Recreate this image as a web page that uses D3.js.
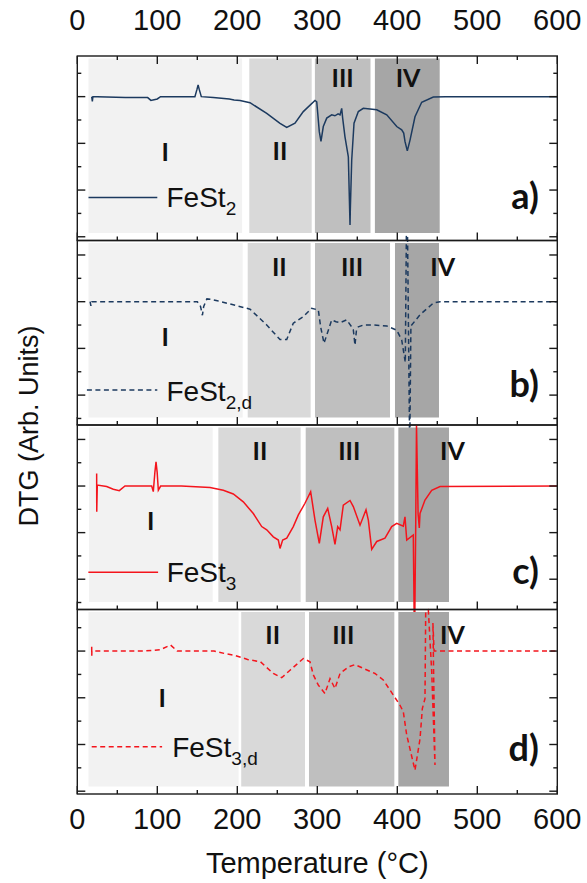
<!DOCTYPE html>
<html>
<head>
<meta charset="utf-8">
<script src="https://cdn.jsdelivr.net/npm/d3@7"></script>
<style>
  body { margin: 0; background: #fff; }
  text { font-family: "Liberation Sans", Arial, sans-serif; fill: #111; }
  .roman, .tag { font-family: Lato, "Open Sans", sans-serif; font-weight: bold; }
</style>
</head>
<body>
<script>
// ---- data ----
var tempTicks = [0, 100, 200, 300, 400, 500, 600];

var fest2T = [18, 18.8, 19.5, 25, 60, 88, 92, 100, 104, 130, 147, 149.5, 151, 152.5, 155, 170, 190, 196, 203.4, 215.9, 236.8, 253.4, 261.8, 272.1, 282.5, 297.1, 299.3, 302.5, 304.6, 307.5, 311.8, 318, 322, 326, 328.4, 330.5, 331.7, 334.6, 338.8, 340.9, 341.3, 343, 345.9, 351.3, 357.5, 374.3, 386.8, 399.3, 405.5, 408, 409.6, 412.5, 415.9, 422.1, 430.5, 445, 460, 600];
var fest2V = [0, -0.1, 0, 0, -0.02, -0.02, -0.08, -0.05, 0, 0, 0, 0.15, 0.25, 0.15, 0, -0.02, -0.05, -0.07, -0.085, -0.13, -0.36, -0.57, -0.66, -0.57, -0.32, -0.08, -0.11, -0.75, -0.96, -0.64, -0.46, -0.39, -0.41, -0.37, -0.39, -0.25, -0.46, -0.86, -1.29, -2.75, -2.4, -1.36, -0.57, -0.32, -0.25, -0.28, -0.39, -0.64, -0.71, -0.78, -0.96, -1.16, -0.93, -0.43, -0.12, -0.01, 0, 0];

var fest2dT = [16, 17, 18, 40, 100, 150, 154, 156.4, 158, 162, 167, 175, 190.9, 215.9, 236.8, 253.4, 261.8, 270, 282.5, 293, 301.3, 304.2, 308.4, 313.8, 318, 323.4, 328.4, 336.7, 343, 345, 347.1, 349, 351.3, 357.5, 370, 386.8, 399.3, 405.5, 407.5, 410, 412, 415.5, 417, 428.4, 445, 453.4, 600];
var fest2dV = [0, -0.09, 0, 0, 0, 0, -0.1, -0.29, -0.1, 0.06, 0.05, 0.02, -0.05, -0.16, -0.5, -0.81, -0.81, -0.46, -0.32, -0.14, -0.18, -0.54, -0.89, -0.61, -0.39, -0.43, -0.45, -0.39, -0.54, -0.6, -0.93, -0.6, -0.54, -0.5, -0.5, -0.52, -0.61, -0.82, -1.03, -1.3, 2.8, -3.2, -0.52, -0.28, -0.03, 0, 0];

var fest3T = [24.2, 24.3, 25, 36.7, 45, 52.5, 59.6, 93, 95, 97, 98.4, 99.8, 101.3, 104.2, 130, 165.9, 182.5, 195, 207.5, 220, 230.5, 236.8, 245, 251.3, 253.4, 256.7, 261.8, 270, 276.3, 284.6, 291.7, 297.1, 302.5, 307.5, 313, 318, 322.1, 325.5, 328.4, 332.5, 340.9, 345, 353.4, 360.9, 363.8, 368, 374.3, 384.6, 393, 399.3, 407.5, 409.6, 411.8, 420, 421.5, 423, 424, 426, 427.5, 428.4, 434.6, 443, 453.4, 600];
var fest3V = [0.27, -0.55, 0.02, -0.01, -0.07, -0.1, 0, 0, -0.12, 0.3, 0.52, 0.3, -0.09, 0, 0, -0.03, -0.09, -0.17, -0.34, -0.59, -0.87, -0.94, -1.09, -1.16, -1.34, -1.16, -1.12, -0.87, -0.62, -0.37, -0.12, -0.73, -1.23, -0.66, -0.48, -0.87, -1.25, -0.87, -0.94, -0.41, -0.31, -0.44, -0.84, -0.51, -0.73, -1.36, -1.19, -1.12, -0.87, -0.8, -0.86, -0.66, -1.16, -1.05, -3.5, -0.9, 1.31, -0.6, -0.9, -0.59, -0.3, -0.09, -0.01, 0];

var fest3dT = [18, 18.1, 18.2, 40, 83, 104, 116.6, 125, 171, 183.6, 196.1, 212.9, 229, 245, 255.5, 265.9, 282.5, 290.9, 295, 301.3, 309.6, 315.9, 322.1, 328.4, 338.8, 347.1, 357.5, 372.1, 382.5, 395, 403.4, 407.5, 411.8, 422.1, 428.4, 431.3, 434.6, 435.5, 438.8, 443, 447.1, 444.5, 446, 460, 600];
var fest3dV = [0.09, -0.1, 0, 0, 0, 0.03, 0.13, 0, 0, -0.05, -0.09, -0.18, -0.23, -0.48, -0.57, -0.41, -0.16, -0.23, -0.51, -0.73, -0.91, -0.59, -0.8, -0.48, -0.34, -0.29, -0.37, -0.48, -0.62, -0.94, -1.16, -1.3, -1.8, -2.55, -1.88, -1.23, -1.02, 0.84, 0.88, -0.44, -2.44, 0.6, 0, 0, 0];

// temperature ranges of stages I..IV in each panel
var stagesA = [[14, 206], [215, 293], [297, 366.5], [372, 453]];
var stagesB = [[14, 206.7], [213, 291.7], [297.1, 390.9], [397.1, 452.1]];
var stagesC = [[14.6, 169.2], [176.3, 279.2], [285.5, 396.3], [401.3, 464.6]];
var stagesD = [[14, 201.6], [204.9, 284.6], [289.6, 396.3], [401.3, 464.6]];
var stageNames = ["I", "II", "III", "IV"];
var stageFill = ["#f2f2f2", "#d9d9d9", "#bfbfbf", "#a6a6a6"];

// ---- layout ----
var W = 587, H = 883,
    panelTop0 = 56, panelH = 184.5,
    xLeft = 77.3, xRight = 557.3,
    blue = "#1c3a5f", red = "#f4141c";

var panels = [
  { tag: "a)", name: "FeSt", sub: "2", color: blue, dash: null, t: fest2T, v: fest2V, stages: stagesA,
    yDom: [-3.08, 0.87], romanAt: [[110, -1.37], [253.4, -1.36], [331.7, 0.21], [413.4, 0.21]],
    leg: { t0: 14, t1: 100, v: -2.16, tt: 111.5, tv: -2.37 }, tagV: -2.41 },
  { tag: "b)", name: "FeSt", sub: "2,d", color: blue, dash: "5,3.5", t: fest2dT, v: fest2dV, stages: stagesB,
    yDom: [-2.64, 1.31], romanAt: [[110, -0.94], [252.5, 0.55], [343.4, 0.55], [456.7, 0.55]],
    leg: { t0: 12, t1: 100, v: -1.89, tt: 111.5, tv: -2.12 }, tagV: -2.05 },
  { tag: "c)", name: "FeSt", sub: "3", color: red, dash: null, t: fest3T, v: fest3V, stages: stagesC,
    yDom: [-2.65, 1.31], romanAt: [[91.7, -0.94], [228.4, 0.56], [340, 0.56], [469, 0.56]],
    leg: { t0: 13.8, t1: 101, v: -1.85, tt: 111.7, tv: -2.07 }, tagV: -2.1 },
  { tag: "d)", name: "FeSt", sub: "3,d", color: red, dash: "5,3.5", t: fest3dT, v: fest3dV, stages: stagesD,
    yDom: [-3.06, 0.89], romanAt: [[106, -1.2], [244.2, 0.16], [332.5, 0.16], [469, 0.16]],
    leg: { t0: 18, t1: 106, v: -2.05, tt: 118.6, tv: -2.27 }, tagV: -2.35 }
];

var svg = d3.select("body").append("svg")
  .attr("width", W)
  .attr("height", H);

var x = d3.scaleLinear().domain([0, 600]).range([xLeft, xRight]);
var xMinor = d3.range(0, 601, 50);

panels.forEach(function(p, i) {
  var top = panelTop0 + i * panelH,
      bot = top + panelH;
  var y = d3.scaleLinear().domain(p.yDom).range([bot, top]);
  var g = svg.append("g");

  // stage shading
  g.selectAll(".stage")
    .data(p.stages)
    .enter().append("rect")
      .attr("x", function(d) { return x(d[0]); })
      .attr("width", function(d) { return x(d[1]) - x(d[0]); })
      .attr("y", top + 2.5)
      .attr("height", panelH - 10)
      .attr("fill", function(d, k) { return stageFill[k]; });

  // stage numerals
  g.selectAll(".roman")
    .data(p.romanAt)
    .enter().append("text")
      .attr("class", "roman")
      .attr("x", function(d) { return x(d[0]); })
      .attr("y", function(d) { return y(d[1]); })
      .attr("text-anchor", "middle")
      .style("font-size", "25px")
      .text(function(d, k) { return stageNames[k]; });

  // curve (may run a little past the frame)
  var clipId = "clip" + i;
  svg.append("clipPath").attr("id", clipId)
    .append("rect")
      .attr("x", xLeft).attr("y", top - 5)
      .attr("width", xRight - xLeft).attr("height", panelH + 10);

  var line = d3.line()
    .x(function(d) { return x(d[0]); })
    .y(function(d) { return y(d[1]); });

  g.append("path")
    .datum(d3.zip(p.t, p.v))
    .attr("clip-path", "url(#" + clipId + ")")
    .attr("d", line)
    .attr("fill", "none")
    .attr("stroke", p.color)
    .attr("stroke-width", 1.5)
    .attr("stroke-dasharray", p.dash);

  // legend
  g.append("line")
    .attr("x1", x(p.leg.t0)).attr("x2", x(p.leg.t1))
    .attr("y1", y(p.leg.v)).attr("y2", y(p.leg.v))
    .attr("stroke", p.color)
    .attr("stroke-width", 1.5)
    .attr("stroke-dasharray", p.dash);
  var lt = g.append("text")
    .attr("x", x(p.leg.tt))
    .attr("y", y(p.leg.tv))
    .style("font-size", "28px");
  lt.append("tspan").text(p.name);
  lt.append("tspan").attr("dy", 8).style("font-size", "19px").text(p.sub);

  // panel tag
  g.append("text")
    .attr("class", "tag")
    .attr("x", x(577))
    .attr("y", y(p.tagV))
    .attr("text-anchor", "end")
    .style("font-size", "36px")
    .text(p.tag);

  // frame
  g.append("rect")
    .attr("x", xLeft).attr("y", top)
    .attr("width", xRight - xLeft).attr("height", panelH)
    .attr("fill", "none")
    .attr("stroke", "#1a1a1a")
    .attr("stroke-width", 1.4);

  // y ticks, both sides, pointing in
  var yt = d3.range(-6, 3).map(function(k) { return k / 2; })
    .filter(function(v) { return v >= p.yDom[0] && v <= p.yDom[1]; });
  g.selectAll(".ytl")
    .data(yt).enter().append("line")
      .attr("x1", xLeft).attr("x2", function(d) { return xLeft + (d % 1 === 0 ? 8 : 4); })
      .attr("y1", y).attr("y2", y)
      .attr("stroke", "#1a1a1a").attr("stroke-width", 1.4);
  g.selectAll(".ytr")
    .data(yt).enter().append("line")
      .attr("x1", xRight).attr("x2", function(d) { return xRight - (d % 1 === 0 ? 8 : 4); })
      .attr("y1", y).attr("y2", y)
      .attr("stroke", "#1a1a1a").attr("stroke-width", 1.4);

  // x ticks on the bottom edge, pointing up
  g.selectAll(".xtb")
    .data(xMinor).enter().append("line")
      .attr("x1", x).attr("x2", x)
      .attr("y1", bot).attr("y2", function(d) { return bot - (d % 100 === 0 ? 8 : 4); })
      .attr("stroke", "#1a1a1a").attr("stroke-width", 1.4);

  if (i === 0) {
    g.selectAll(".xtt")
      .data(xMinor).enter().append("line")
        .attr("x1", x).attr("x2", x)
        .attr("y1", top).attr("y2", function(d) { return top + (d % 100 === 0 ? 8 : 4); })
        .attr("stroke", "#1a1a1a").attr("stroke-width", 1.4);
  }
});

// tick labels top and bottom
svg.selectAll(".xlabTop")
  .data(tempTicks).enter().append("text")
    .attr("x", x).attr("y", 30)
    .attr("text-anchor", "middle")
    .style("font-size", "29px")
    .text(function(d) { return d; });

svg.selectAll(".xlabBot")
  .data(tempTicks).enter().append("text")
    .attr("x", x).attr("y", 829)
    .attr("text-anchor", "middle")
    .style("font-size", "29px")
    .text(function(d) { return d; });

// axis titles
svg.append("text")
  .attr("x", (xLeft + xRight) / 2)
  .attr("y", 873)
  .attr("text-anchor", "middle")
  .style("font-size", "29px")
  .text("Temperature (°C)");

svg.append("text")
  .attr("transform", "rotate(-90)")
  .attr("x", -426)
  .attr("y", 38)
  .attr("text-anchor", "middle")
  .style("font-size", "27px")
  .text("DTG (Arb. Units)");
</script>
</body>
</html>
